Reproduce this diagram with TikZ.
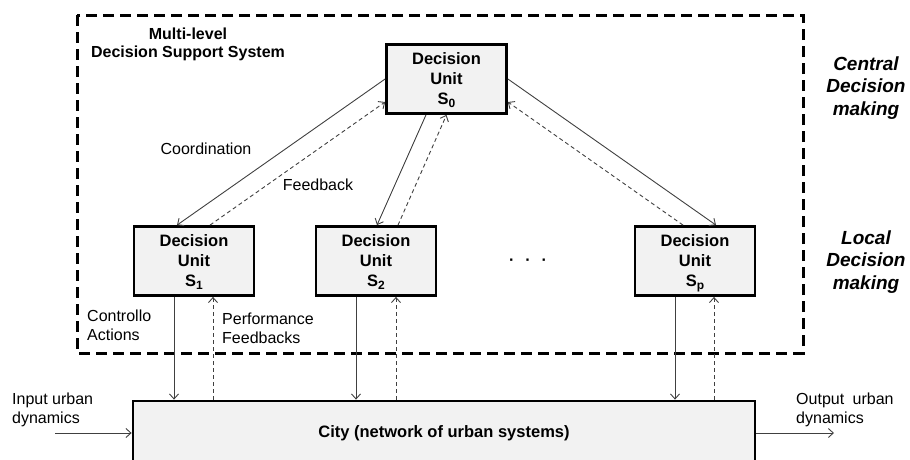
\documentclass[tikz,border=0pt]{standalone}
\usepackage{fontspec}
\setmainfont{Liberation Sans}
\usetikzlibrary{arrows.meta,calc}
\definecolor{boxgray}{HTML}{F2F2F2}
\definecolor{linegray}{HTML}{404040}
\newcommand{\unitsub}[1]{S\raisebox{-3pt}{\fontsize{12}{12}\selectfont #1\vphantom{p}}}
\newcommand{\unittext}[1]{\rule{0pt}{17pt}Decision\\Unit\\\unitsub{#1}}
\begin{document}
\begin{tikzpicture}[x=1pt,y=-1pt,
  unitbox/.style={draw=black, line width=2.8pt, fill=boxgray, minimum width=120pt,
    minimum height=69pt, align=center, inner sep=0pt,
    font=\bfseries\fontsize{16.5}{20}\selectfont},
  conn/.style={draw=linegray, line width=0.9pt, -{Straight Barb[length=5pt,width=9pt]}},
  fb/.style={conn, dash pattern=on 4pt off 3pt},
  lbl/.style={font=\fontsize{16}{19}\selectfont, inner sep=0pt, text=black},
  side/.style={font=\bfseries\itshape\fontsize{19}{22.5}\selectfont, align=center, inner sep=0pt}
]
\useasboundingbox (0,0) rectangle (910,459);
\clip (0,0) rectangle (910,459);

% dashed system boundary
\draw[line width=3pt, dash pattern=on 11pt off 6pt] (77,15) rectangle (803,353);

% nodes
\node[unitbox] (S0) at (446.5,79) {\unittext{0}};
\node[unitbox] (S1) at (194,261) {\unittext{1}};
\node[unitbox] (S2) at (376,261) {\unittext{2}};
\node[unitbox] (Sp) at (695,261) {\unittext{p}};
\node[draw=black, line width=2.8pt, fill=boxgray, minimum width=622pt, minimum height=64pt,
  inner sep=0pt, font=\bfseries\fontsize{16.5}{20}\selectfont] (City) at (444,433)
  {City (network of urban systems)};

% labels
\node[font=\bfseries\fontsize{16}{18}\selectfont, align=center, inner sep=0pt] (dss) at (188,44)
  {Multi-level\\Decision Support System};
\node[side] (central) at (866,88) {Central\\Decision\\making};
\node[side] (local) at (866,262) {Local\\Decision\\making};
\node[lbl] (coord) at (206,149) {Coordination};
\node[lbl] (feedb) at (318,185) {Feedback};
\node[lbl, align=left, anchor=west] (ctrl) at (87,325.5) {Controllo\\Actions};
\node[lbl, align=left, anchor=west] (perf) at (222,328.5) {Performance\\Feedbacks};
\node[lbl, align=left, anchor=west] (inp) at (12,409.5) {Input urban\\dynamics};
\node[lbl, align=left, anchor=west] (outp) at (796,409.5) {Output\hspace{4pt} urban\\dynamics};
\node[font=\bfseries\fontsize{16}{20}\selectfont, inner sep=0pt] (dots) at (528,262)
  {\textperiodcentered\hspace{11pt}\textperiodcentered\hspace{11pt}\textperiodcentered};

% coordination / feedback between levels
\draw[conn] (S0.west) -- ([xshift=-17pt]S1.north);
\draw[fb] ([xshift=16pt]S1.north) -- ([yshift=-23pt]S0.west);
\draw[conn] ([xshift=-20.5pt]S0.south) -- ([xshift=1pt]S2.north);
\draw[fb] ([xshift=22pt]S2.north) -- (S0.south);
\draw[conn] (S0.east) -- ([xshift=21pt]Sp.north);
\draw[fb] ([xshift=-12pt]Sp.north) -- ([yshift=-23pt]S0.east);

% control actions / performance feedbacks
\foreach \u/\a/\b in {S1/-20/19, S2/-20/20, Sp/-20/19}{
  \draw[conn] ([xshift=\a pt]\u.south) -- ([xshift=\a pt]\u.south |- City.north);
  \draw[fb] ([xshift=\b pt]\u.south |- City.north) -- ([xshift=\b pt]\u.south);
}

% input / output
\coordinate (inS) at (55,433);
\coordinate (outE) at (834,433);
\draw[conn] (inS) -- (City.west);
\draw[conn] (City.east) -- (outE);
\end{tikzpicture}
\end{document}
